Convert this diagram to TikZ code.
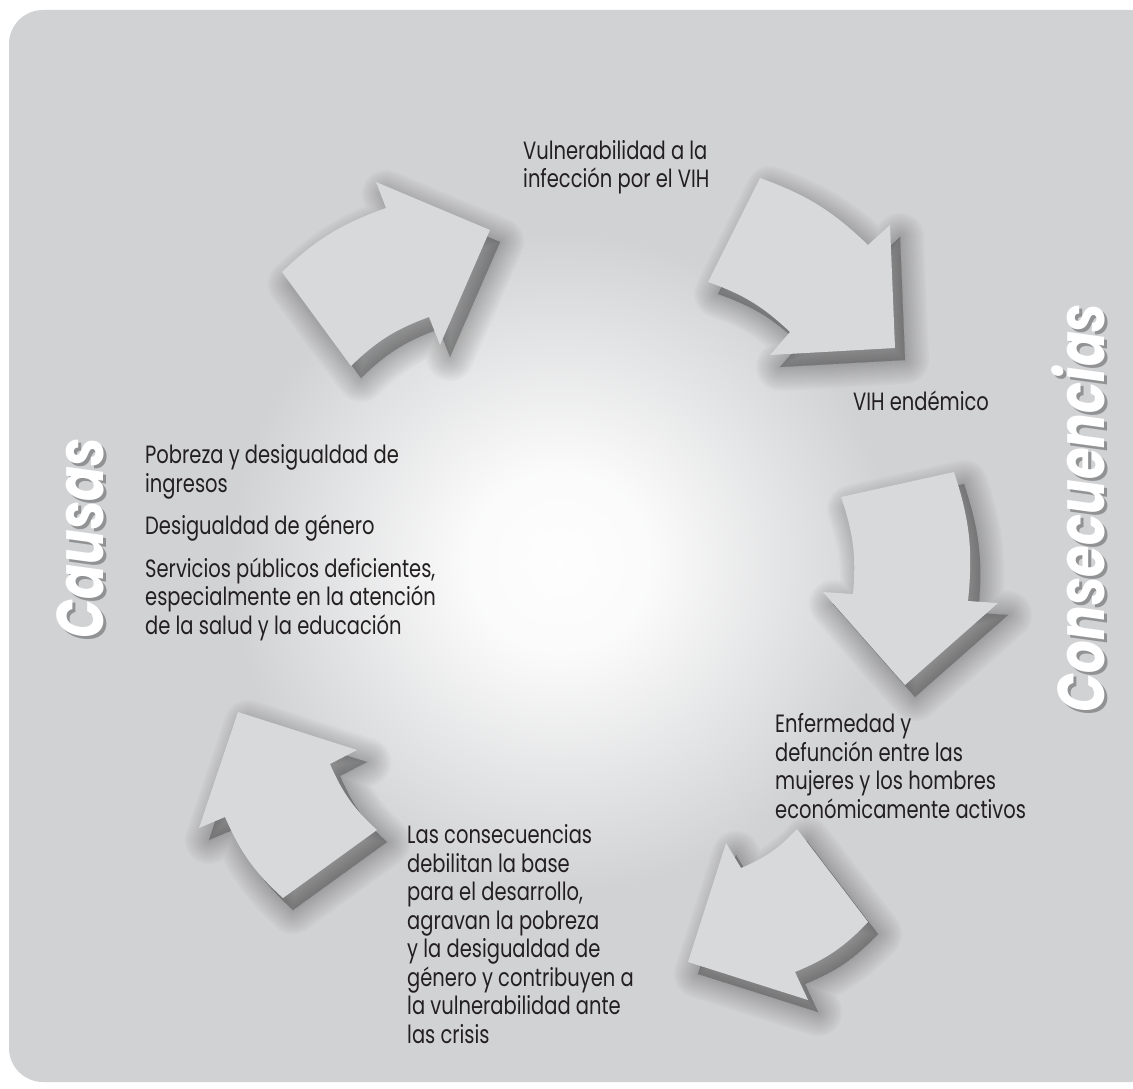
\documentclass[tikz,border=0pt]{standalone}
\usepackage{fontspec}
\setmainfont{Poppins}[FakeStretch=0.78]
\usepackage{tikz}
\usetikzlibrary{positioning}

\definecolor{fondo}{HTML}{D1D2D4}
\definecolor{flecha}{HTML}{D8D9DB}
\definecolor{texto}{HTML}{231F20}

\pgfdeclareradialshading{brillo}{\pgfpoint{0bp}{0bp}}{color(0bp)=(white!97!fondo); color(7bp)=(white!90!fondo); color(16bp)=(white!45!fondo); color(25bp)=(fondo); color(50bp)=(fondo)}

\tikzset{
  rotulo/.style={align=left, anchor=base west, inner sep=0, text=texto,
    font=\fontsize{25}{28.5}\selectfont},
  titulo/.style={rotate=90, inner sep=0, text=white,
    font=\fontsize{66}{66}\selectfont\bfseries\itshape},
  sombra/.style={fill=black, draw=black, line join=round, opacity=0.021},
}

% the five arrows (outer side first)
\def\flechaA{(282,272) to[bend left=12] (386,208) -- (376,182) -- (490,230) -- (440,345) -- (429,317) to[bend right=12] (351,366) -- cycle}
\def\flechaB{(760,178) to[bend left=12] (868,245) -- (890,225) -- (895,348) -- (770,355) -- (790,332) to[bend right=12] (708,282) -- cycle}
\def\flechaC{(954,472) to[bend left=12] (968,601) -- (998,603) -- (905,685) -- (823,592) -- (853,594) to[bend right=12] (841,497) -- cycle}
\def\flechaD{(868,922) to[bend left=12] (795,972) -- (808,1000) -- (688,962) -- (726,843) -- (741,868) to[bend right=12] (797,829) -- cycle}
\def\flechaE{(283,898) to[bend left=12] (225,817) -- (199,828) -- (238,712) -- (357,750) -- (330,764) to[bend right=12] (377,830) -- cycle}

\begin{document}
\begin{tikzpicture}[x=1pt,y=-1pt]

\useasboundingbox (0,0) rectangle (1133,1089);
\clip (0,0) rectangle (1133,1089);
\fill[fondo, rounded corners=34] (9,10) rectangle (1165,1082);
\shade[shading=brillo] (560,562) circle (330);

% soft shadows
\foreach \n in {A,B,C,D,E}{
  \expandafter\let\expandafter\flecha\csname flecha\n\endcsname
  \foreach \w in {0,4,...,48}
    \fill[sombra, line width=\w, shift={(10,12)}] \flecha;
}

\foreach \n in {A,B,C,D,E}{
  \expandafter\let\expandafter\flecha\csname flecha\n\endcsname
  \fill[flecha] \flecha;
}

% base anchor sits on the last line
\node[rotulo] (vulnerabilidad) at (523,188) {Vulnerabilidad a la\\infección por el VIH};
\node[rotulo] (endemico) at (853,410) {VIH endémico};
\node[rotulo] (enfermedad) at (775,818) {Enfermedad y\\defunción entre las\\mujeres y los hombres\\económicamente activos};
\node[rotulo] (consecuencias) at (407,1043) {Las consecuencias\\debilitan la base\\para el desarrollo,\\agravan la pobreza\\y la desigualdad de\\género y contribuyen a\\la vulnerabilidad ante\\las crisis};
\node[rotulo] (causas) at (145,634) {Pobreza y desigualdad de\\ingresos\\[14pt]Desigualdad de género\\[14pt]Servicios públicos deficientes,\\especialmente en la atención\\de la salud y la educación};

\node[titulo, text=black, opacity=0.3] (causasSombra) at (83,541) {Causas};
\node[titulo] (tituloCausas) at (80,538) {Causas};
\node[titulo, text=black, opacity=0.3] (consecSombra) at (1081,511) {Consecuencias};
\node[titulo] (tituloConsec) at (1078,508) {Consecuencias};

\end{tikzpicture}
\end{document}
